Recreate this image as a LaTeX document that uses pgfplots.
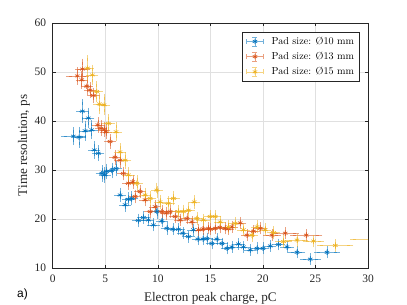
\documentclass[border=0pt]{standalone}
\usepackage{fontspec}
\usepackage{pgfplots}
\usepackage{pgfplotstable}
\pgfplotsset{compat=1.18}
\newfontfamily\tnr{Liberation Serif}
\newfontfamily\arial{Liberation Sans}
\definecolor{c1}{rgb}{0,0.447,0.741}
\definecolor{c2}{rgb}{0.85,0.325,0.098}
\definecolor{c3}{rgb}{0.929,0.694,0.125}
\definecolor{axgray}{rgb}{0.15,0.15,0.15}

\pgfplotstableread{
x y ex ey
1.96 36.9 0.9 1.2
2.50 36.7 0.4 1.5
2.82 42.0 0.3 1.8
3.08 38.0 0.3 1.4
3.39 40.6 0.3 1.5
3.71 38.2 0.3 1.3
3.96 34.1 0.3 1.2
4.34 33.4 0.3 1.0
4.67 29.3 0.3 1.1
4.95 29.0 0.3 1.0
5.14 29.7 0.3 1.0
5.62 29.9 0.3 1.0
6.03 30.3 0.3 1.0
6.41 24.9 0.3 0.9
6.89 22.9 0.3 0.8
7.20 24.0 0.3 0.8
7.52 24.2 0.3 0.8
8.15 19.7 0.3 0.8
8.63 20.3 0.3 0.7
9.10 19.8 0.3 0.7
9.58 18.8 0.3 0.7
9.90 21.5 0.3 0.8
10.38 19.6 0.3 0.7
10.86 18.1 0.3 0.7
11.43 17.9 0.3 0.6
11.96 17.9 0.3 0.6
12.38 17.1 0.3 0.6
12.91 16.4 0.3 0.6
13.39 17.8 0.3 0.6
13.81 15.9 0.3 0.6
14.29 15.9 0.3 0.6
14.67 16.0 0.3 0.6
15.14 15.0 0.3 0.6
15.62 15.9 0.3 0.6
16.10 15.0 0.3 0.6
16.57 14.0 0.3 0.6
17.05 14.3 0.3 0.6
17.68 14.9 0.3 0.6
18.15 14.3 0.3 0.6
18.79 13.7 0.3 0.6
19.43 14.0 0.3 0.6
20.00 14.0 0.3 0.6
20.70 14.5 0.3 0.6
21.49 14.8 0.35 0.6
22.29 14.3 0.35 0.6
23.24 13.2 0.52 0.6
24.50 11.8 0.7 0.6
26.10 13.2 0.95 0.6
}\blue

\pgfplotstableread{
x y ex ey
2.34 49.2 0.8 1.2
2.82 50.6 0.4 1.5
2.76 48.4 0.3 1.2
3.24 47.1 0.3 1.2
3.55 46.3 0.3 1.0
3.87 45.2 0.3 1.0
4.29 39.2 0.3 1.0
4.60 38.5 0.3 1.0
4.91 38.2 0.3 0.9
5.08 37.8 0.3 0.9
5.46 35.8 0.3 0.9
5.93 32.6 0.3 0.9
6.41 32.0 0.3 0.9
6.72 29.3 0.3 0.8
7.20 27.3 0.3 0.8
7.62 27.6 0.3 0.8
7.84 24.6 0.3 0.8
8.31 25.6 0.3 0.8
8.79 23.9 0.3 0.7
9.27 21.5 0.3 0.7
9.74 22.5 0.3 0.7
10.38 21.5 0.3 0.7
10.79 21.2 0.3 0.7
11.17 21.5 0.3 0.7
11.65 20.5 0.3 0.7
12.12 19.8 0.3 0.6
12.76 20.1 0.3 0.6
13.24 19.4 0.3 0.6
13.87 17.8 0.3 0.6
14.30 18.0 0.3 0.6
14.82 18.1 0.3 0.6
15.00 17.9 0.3 0.6
15.46 18.1 0.3 0.6
15.90 18.3 0.3 0.6
16.41 18.1 0.3 0.6
16.70 18.0 0.3 0.6
17.05 18.4 0.3 0.6
17.84 19.2 0.3 0.6
18.48 16.7 0.3 0.6
19.10 17.5 0.3 0.6
19.74 18.1 0.35 0.6
20.86 16.7 0.55 0.6
22.12 17.1 1.0 0.6
24.12 16.7 1.25 0.6
}\orange

\pgfplotstableread{
x y ex ey
3.33 50.8 0.3 2.0
3.77 49.4 0.3 1.5
4.19 46.0 0.3 1.5
4.44 43.5 0.3 1.5
4.89 43.3 0.3 1.5
5.30 39.5 0.3 1.3
6.03 37.8 0.3 1.3
6.41 33.7 0.3 1.1
6.89 32.0 0.3 1.1
7.20 29.0 0.3 1.0
8.00 27.3 0.3 1.0
8.79 24.9 0.3 0.9
9.27 24.2 0.3 0.9
9.90 25.9 0.3 0.9
10.22 23.5 0.3 0.8
11.01 23.2 0.3 0.8
11.49 24.2 0.3 0.8
11.96 21.5 0.3 0.8
12.44 21.5 0.3 0.8
12.91 21.8 0.3 0.8
13.46 23.5 0.3 0.8
13.71 20.1 0.3 0.7
14.34 19.8 0.3 0.7
14.98 20.5 0.3 0.7
15.46 20.5 0.3 0.7
15.93 19.4 0.3 0.7
16.72 18.4 0.3 0.7
17.36 19.1 0.3 0.7
18.15 17.8 0.3 0.7
18.95 16.7 0.3 0.7
19.43 18.4 0.3 0.7
20.22 17.8 0.3 0.7
21.01 17.2 0.35 0.7
21.96 15.4 0.5 0.7
23.24 15.7 0.8 0.7
24.82 15.5 0.7 0.7
26.89 14.6 1.43 0.7
30.40 15.9 1.8 0.7
}\yellow

\pgfplotsset{
  ebleg/.style={legend image code/.code={
    \path (-1bp,0bp) (23bp,0bp);
    \draw[##1,mark=none,opacity=0.55,line width=0.5pt]
      (0bp,0bp)--(17bp,0bp) (0bp,-2.5bp)--(0bp,2.5bp) (17bp,-2.5bp)--(17bp,2.5bp)
      (8.5bp,-4.5bp)--(8.5bp,4.5bp) (6bp,-4.5bp)--(11bp,-4.5bp) (6bp,4.5bp)--(11bp,4.5bp);
    \draw[##1] plot coordinates {(8.5bp,0bp)};
  }},
  ebstyle/.style={only marks, mark=asterisk, mark size=2.6bp,
    mark options={line width=0.6pt}, ebleg,
    error bars/.cd, x dir=both, x explicit, y dir=both, y explicit,
    error bar style={line width=0.5pt, opacity=0.55},
    error mark options={mark size=3bp, line width=0.5pt, opacity=0.55}},
}

\begin{document}
\begin{tikzpicture}
\useasboundingbox (0,0) rectangle (407bp,305bp);
\begin{axis}[
  at={(52.7bp,37bp)}, anchor=south west,
  width=315.3bp, height=245bp, scale only axis,
  xmin=0, xmax=30, ymin=10, ymax=60,
  xtick={0,5,...,30}, ytick={10,20,...,60},
  grid=major, major grid style={color=black!12, line width=0.5pt},
  tick align=inside, major tick length=3bp,
  axis line style={axgray, line width=0.5pt},
  tick style={axgray, line width=0.5pt},
  /pgf/number format/assume math mode=true,
  ticklabel style={font=\tnr\fontsize{11.5}{13}\selectfont, text=axgray},
  xticklabel style={yshift=-3bp},
  yticklabel style={xshift=-3bp},
  xlabel={Electron peak charge, pC},
  ylabel={Time resolution, ps},
  label style={font=\tnr\fontsize{13.2}{15}\selectfont, text=axgray},
  xlabel style={yshift=-3bp},
  ylabel style={yshift=-2bp},
  legend style={at={(1,1)}, anchor=north east, xshift=-8.7bp, yshift=-8.7bp,
    draw=axgray, line width=0.5pt, fill=white,
    font=\fontsize{10.2}{12}\selectfont, row sep=2.2bp,
    inner xsep=3bp, inner ysep=3bp},
  legend cell align=left,
]
\addplot[c1, ebstyle] table[x=x,y=y,x error=ex,y error=ey] {\blue};
\addlegendentry{Pad size: Ø10 mm}
\addplot[c2, ebstyle] table[x=x,y=y,x error=ex,y error=ey] {\orange};
\addlegendentry{Pad size: Ø13 mm}
\addplot[c3, ebstyle] table[x=x,y=y,x error=ex,y error=ey] {\yellow};
\addlegendentry{Pad size: Ø15 mm}
\end{axis}
\node[font=\arial\fontsize{12}{14}\selectfont] at (22.5bp,11bp) {a)};
\end{tikzpicture}
\end{document}
